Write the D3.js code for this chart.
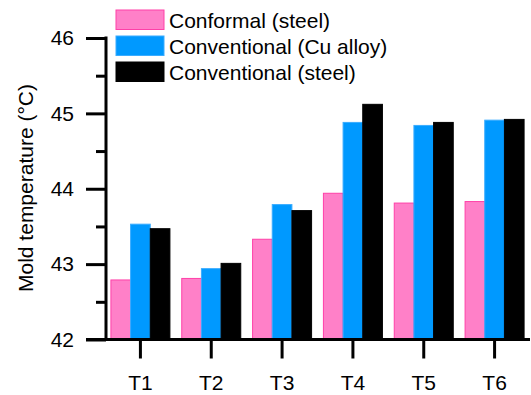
<!DOCTYPE html>
<html>
<head>
<meta charset="utf-8">
<script src="https://cdn.jsdelivr.net/npm/d3@7"></script>
<style>
  html, body { margin: 0; padding: 0; background: #fff; }
  svg { display: block; font-family: "Liberation Sans", Arial, sans-serif; }
</style>
</head>
<body>
<svg id="chart" width="531" height="395"></svg>
<script>
// Test positions along the mold
const categories = ["T1", "T2", "T3", "T4", "T5", "T6"];

// Mold temperature (°C) for each cooling design
const seriesNames = ["Conformal (steel)", "Conventional (Cu alloy)", "Conventional (steel)"];
const conformalSteel = [42.79, 42.81, 43.33, 43.94, 43.81, 43.83];
const conventionalCu = [43.53, 42.94, 43.79, 44.88, 44.84, 44.91];
const conventionalSteel = [43.47, 43.01, 43.71, 45.12, 44.88, 44.92];

// Axis ticks
const yMajorTicks = [42, 43, 44, 45, 46];
const yMinorTicks = [42.5, 43.5, 44.5, 45.5];

const fills = ["#ff80c8", "#0099ff", "#000000"];
const strokes = ["#ff40a8", "#3aacff", "#000000"];

const seriesValues = [conformalSteel, conventionalCu, conventionalSteel];
const rows = categories.map((c, i) => ({
  cat: c,
  values: seriesValues.map((s, k) => ({ key: seriesNames[k], k, v: s[i] }))
}));

const svg = d3.select("#chart");
const fontSize = 21;
const fontFamily = '"Liberation Sans", Arial, sans-serif';

const x = d3.scaleBand().domain(categories).range([105, 530]).paddingInner(0).paddingOuter(0);
const inner = d3.scaleBand().domain(seriesNames).range([-29.5, 29.5]);
const y = d3.scaleLinear().domain([42, 46]).range([339.5, 38]);

// Bars
const groups = svg.append("g").selectAll("g")
  .data(rows).join("g")
  .attr("transform", d => `translate(${x(d.cat) + x.bandwidth() / 2},0)`);

groups.selectAll("rect")
  .data(d => d.values).join("rect")
  .attr("x", d => inner(d.key))
  .attr("width", inner.bandwidth())
  .attr("y", d => y(d.v))
  .attr("height", d => y(42) - y(d.v))
  .attr("fill", d => fills[d.k])
  .attr("stroke", d => strokes[d.k])
  .attr("stroke-width", 1);

// Y axis: major ticks with labels
const yAxis = svg.append("g")
  .attr("transform", "translate(106,0)")
  .call(d3.axisLeft(y).tickValues(yMajorTicks).tickFormat(d3.format("d")).tickSize(20).tickPadding(12));
// Y axis: minor ticks
const yMinor = svg.append("g")
  .attr("transform", "translate(106,0)")
  .call(d3.axisLeft(y).tickValues(yMinorTicks).tickFormat("").tickSize(10));

// X axis
const xAxis = svg.append("g")
  .attr("transform", `translate(0,${y(42)})`)
  .call(d3.axisBottom(x).tickSize(19).tickPadding(16.5));

[yAxis, yMinor, xAxis].forEach(g => {
  g.select(".domain").remove();
  g.selectAll(".tick line").attr("stroke", "#000").attr("stroke-width", 3);
  g.selectAll(".tick text")
    .attr("fill", "#000")
    .style("font-size", fontSize + "px")
    .style("font-family", fontFamily);
});

// Axis lines
svg.append("line")
  .attr("x1", 106).attr("x2", 106)
  .attr("y1", y(46) - 1.5).attr("y2", y(42))
  .attr("stroke", "#000").attr("stroke-width", 3);
svg.append("line")
  .attr("x1", 86).attr("x2", 530)
  .attr("y1", y(42)).attr("y2", y(42))
  .attr("stroke", "#000").attr("stroke-width", 3);

// Y axis title
svg.append("text")
  .attr("transform", "translate(33,188) rotate(-90)")
  .attr("text-anchor", "middle")
  .style("font-size", fontSize + "px")
  .style("font-family", fontFamily)
  .attr("fill", "#000")
  .text("Mold temperature (°C)");

// Legend
const legend = svg.append("g").attr("transform", "translate(116,10)");
const item = legend.selectAll("g").data(seriesNames).join("g")
  .attr("transform", (d, i) => `translate(0,${i * 26})`);
item.append("rect")
  .attr("x", 0).attr("y", 0)
  .attr("width", 48).attr("height", 19.5)
  .attr("fill", (d, i) => fills[i])
  .attr("stroke", (d, i) => strokes[i])
  .attr("stroke-width", 1);
item.append("text")
  .attr("x", 53).attr("y", 17.5)
  .style("font-size", fontSize + "px")
  .style("font-family", fontFamily)
  .attr("fill", "#000")
  .text(d => d);
</script>
</body>
</html>
